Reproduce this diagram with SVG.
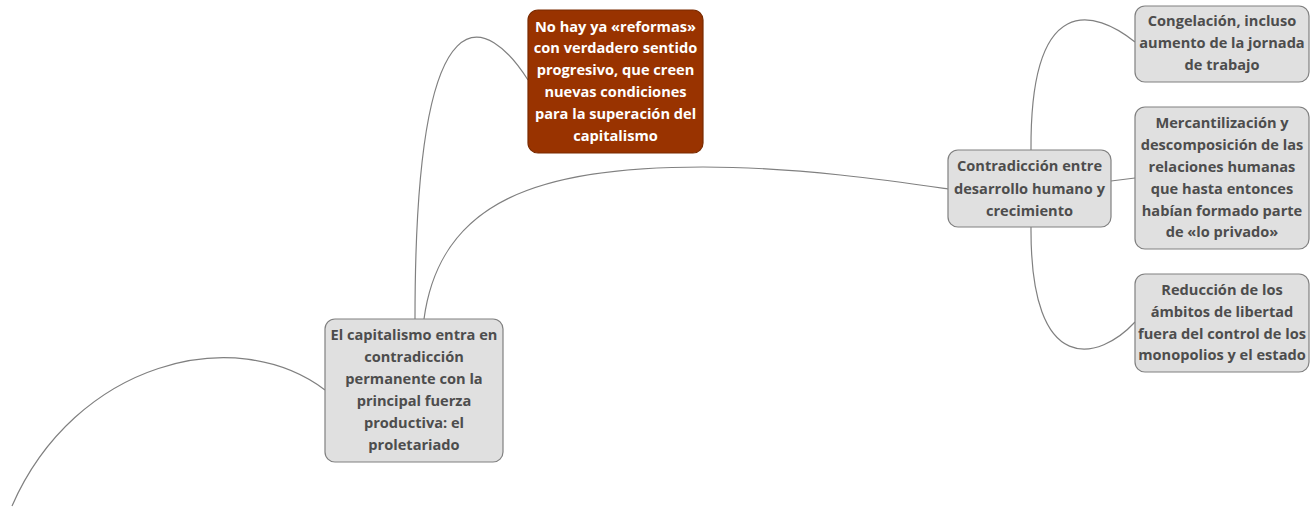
<svg xmlns="http://www.w3.org/2000/svg" width="1314" height="507" viewBox="0 0 1314 507">
<style>
.box{fill:#e0e0e0;stroke:#808080;stroke-width:1.2}
.red{fill:#993300;stroke:#7a2a00;stroke-width:1.2}
.t{font-family:"Open Sans","Liberation Sans",sans-serif;font-weight:700;font-size:14.6px;fill:#4d4d4d;text-anchor:middle}
.tw{fill:#ffffff}
.c{fill:none;stroke:#808080;stroke-width:1.2}
</style>
<rect width="1314" height="507" fill="#ffffff"/>
<g id="connectors">
<path class="c" d="M12 506 C75 362 235 322 325 390"/>
<path class="c" d="M415 319 C415 -30 490 20 528 80"/>
<path class="c" d="M424 319 C440 200 540 167 703 167 C800 167 900 182 948 189"/>
<path class="c" d="M1031 150 C1030 -10 1095 10 1135 42"/>
<path class="c" d="M1111 181 L1135 178"/>
<path class="c" d="M1031 227 C1030 380 1100 360 1135 322"/>
</g>
<g id="node-central">
<rect class="box" x="325" y="319" width="178" height="143" rx="10"/>
<text class="t"><tspan x="414" y="340">El capitalismo entra en</tspan><tspan x="414" y="362">contradicción</tspan><tspan x="414" y="384">permanente con la</tspan><tspan x="414" y="406">principal fuerza</tspan><tspan x="414" y="428">productiva: el</tspan><tspan x="414" y="450">proletariado</tspan></text>
</g>
<g id="node-reformas">
<rect class="red" x="528" y="10" width="175" height="143" rx="10"/>
<text class="t tw"><tspan x="615.5" y="32">No hay ya «reformas»</tspan><tspan x="615.5" y="53">con verdadero sentido</tspan><tspan x="615.5" y="75">progresivo, que creen</tspan><tspan x="615.5" y="97">nuevas condiciones</tspan><tspan x="615.5" y="119">para la superación del</tspan><tspan x="615.5" y="141">capitalismo</tspan></text>
</g>
<g id="node-contradiccion">
<rect class="box" x="948" y="150" width="163" height="77" rx="10"/>
<text class="t"><tspan x="1029.5" y="171">Contradicción entre</tspan><tspan x="1029.5" y="194">desarrollo humano y</tspan><tspan x="1029.5" y="216">crecimiento</tspan></text>
</g>
<g id="node-congelacion">
<rect class="box" x="1135" y="6" width="174" height="76" rx="10"/>
<text class="t"><tspan x="1222" y="26">Congelación, incluso</tspan><tspan x="1222" y="48">aumento de la jornada</tspan><tspan x="1222" y="70">de trabajo</tspan></text>
</g>
<g id="node-mercantilizacion">
<rect class="box" x="1135" y="107" width="174" height="142" rx="10"/>
<text class="t"><tspan x="1222" y="128">Mercantilización y</tspan><tspan x="1222" y="150">descomposición de las</tspan><tspan x="1222" y="172">relaciones humanas</tspan><tspan x="1222" y="194">que hasta entonces</tspan><tspan x="1222" y="216">habían formado parte</tspan><tspan x="1222" y="237">de «lo privado»</tspan></text>
</g>
<g id="node-reduccion">
<rect class="box" x="1135" y="274" width="174" height="98" rx="10"/>
<text class="t"><tspan x="1222" y="295">Reducción de los</tspan><tspan x="1222" y="317">ámbitos de libertad</tspan><tspan x="1222" y="339">fuera del control de los</tspan><tspan x="1222" y="360">monopolios y el estado</tspan></text>
</g>
</svg>
